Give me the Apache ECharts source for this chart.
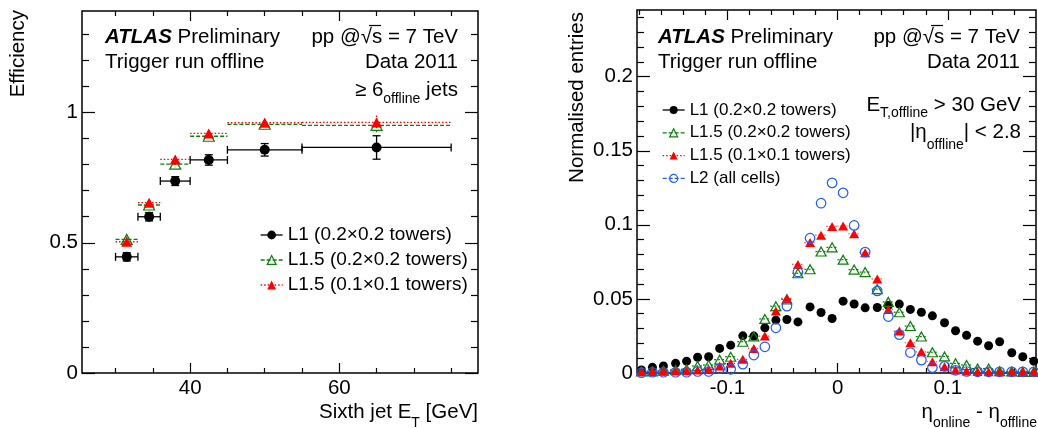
<!DOCTYPE html>
<html><head><meta charset="utf-8">
<script src="https://cdn.jsdelivr.net/npm/echarts@6/dist/echarts.min.js"></script>
<style>html,body{margin:0;padding:0;background:#fff}#c{width:1038px;height:428px}</style>
</head><body><div id="c"></div>
<script>
// ---------------- Left panel: efficiency vs sixth jet ET ----------------
const effBinLow    = [30, 33, 36, 40, 45, 55];
const effBinHigh   = [33, 36, 40, 45, 55, 75];
const effBinCenter = [31.5, 34.5, 38, 42.5, 50, 65];
const effL1        = [0.446, 0.600, 0.737, 0.818, 0.857, 0.866];
const effL1Err     = [0.016, 0.016, 0.017, 0.020, 0.024, 0.045];
const effL15Coarse    = [0.513, 0.645, 0.802, 0.909, 0.955, 0.951];
const effL15CoarseErr = [0.010, 0.010, 0.012, 0.010, 0.008, 0.027];
const effL15Fine      = [0.504, 0.654, 0.820, 0.920, 0.961, 0.962];
const effL15FineErr   = [0.010, 0.010, 0.012, 0.010, 0.008, 0.027];
const effXTicksMajor = [40, 60];
const effXTicksMinor = [30, 35, 45, 50, 55, 65, 70, 75];
const effYTicksMajor = [0, 0.5, 1];
const effYTicksMinor = [0.1, 0.2, 0.3, 0.4, 0.6, 0.7, 0.8, 0.9, 1.1, 1.2, 1.3];

// ---------------- Right panel: eta resolution ----------------
const etaCenter = [-0.178, -0.168, -0.158, -0.147, -0.137, -0.127, -0.117, -0.107, -0.097, -0.086,
  -0.076, -0.066, -0.056, -0.046, -0.036, -0.025, -0.015, -0.005, 0.005, 0.015, 0.025, 0.036,
  0.046, 0.056, 0.066, 0.076, 0.086, 0.097, 0.107, 0.117, 0.127, 0.137, 0.147, 0.158, 0.168, 0.178];
const etaBinHalf = 0.0051;
const resL1 = [0.002, 0.0038, 0.0047, 0.0065, 0.008, 0.0106, 0.011, 0.0166, 0.0188, 0.0251, 0.0249,
  0.0305, 0.0357, 0.0361, 0.0345, 0.0446, 0.0408, 0.0368, 0.0485, 0.0466, 0.044, 0.0442, 0.0455,
  0.0465, 0.0429, 0.041, 0.0386, 0.0339, 0.0285, 0.0254, 0.0215, 0.0184, 0.0211, 0.0137, 0.011, 0.008];
const resL15Coarse = [0.001, 0.001, 0.0015, 0.002, 0.0025, 0.0047, 0.0054, 0.009, 0.011, 0.0211, 0.0247,
  0.0365, 0.0451, 0.0497, 0.0673, 0.07, 0.082, 0.0848, 0.0765, 0.0698, 0.0681, 0.0566, 0.048, 0.041,
  0.0317, 0.0246, 0.014, 0.0112, 0.0065, 0.0054, 0.003, 0.003, 0.0012, 0.001, 0.0008, 0.0008];
const resL15Fine = [0.001, 0.001, 0.0013, 0.0014, 0.0016, 0.002, 0.0025, 0.0047, 0.0065, 0.0092, 0.0166,
  0.0249, 0.0419, 0.0503, 0.0733, 0.088, 0.093, 0.0989, 0.0992, 0.094, 0.0812, 0.0635, 0.0429, 0.0283,
  0.0204, 0.0143, 0.0076, 0.0042, 0.002, 0.0013, 0.001, 0.0008, 0.0008, 0.0008, 0.0008, 0.0008];
const resL2 = [0.0002, 0.0005, 0.0005, 0.0005, 0.0005, 0.001, 0.001, 0.003, 0.0025, 0.006, 0.0121,
  0.0177, 0.0305, 0.0451, 0.0682, 0.091, 0.1146, 0.1283, 0.1216, 0.0996, 0.0816, 0.0554, 0.0381,
  0.0259, 0.0138, 0.0087, 0.0036, 0.0045, 0.0018, 0.001, 0.0008, 0.0008, 0.0008, 0.0008, 0.0008, 0.0008];
const resXTicksMajor = [-0.1, 0, 0.1];
const resXTicksMinor = [-0.18, -0.16, -0.14, -0.12, -0.08, -0.06, -0.04, -0.02, 0.02, 0.04, 0.06, 0.08, 0.12, 0.14, 0.16];
const resYTicksMajor = [0, 0.05, 0.1, 0.15, 0.2];
const resYTicksMinor = [0.01, 0.02, 0.03, 0.04, 0.06, 0.07, 0.08, 0.09, 0.11, 0.12, 0.13, 0.14,
  0.16, 0.17, 0.18, 0.19, 0.21, 0.22, 0.23, 0.24];

const seriesNames = ['L1 (0.2×0.2 towers)', 'L1.5 (0.2×0.2 towers)', 'L1.5 (0.1×0.1 towers)', 'L2 (all cells)'];

// ---------------- styling ----------------
const FONT = "'Liberation Sans', Arial, Helvetica, sans-serif";
const BLACK = '#000000', GREEN = '#0b7f0b', RED = '#ff0000', BLUE = '#1f5cff';
const DASH = [4, 2], DOT = [1.5, 2];

function axes(kind, grid, min, max, major, minor, majLen, minLen, labelMargin) {
  const pos = kind === 'x' ? ['bottom', 'top'] : ['left', 'right'];
  const mk = (p, vals, len, labels) => ({
    type: 'value', gridIndex: grid, min: min, max: max, position: p,
    axisLine: { show: false, onZero: false }, splitLine: { show: false },
    axisTick: { show: true, inside: true, length: len, customValues: vals, lineStyle: { color: '#000', width: 1.2 } },
    axisLabel: labels ? { show: true, customValues: major, margin: labelMargin, fontSize: 20.5, color: '#000', fontFamily: FONT }
                      : { show: false },
    axisPointer: { show: false }
  });
  return [mk(pos[0], major, majLen, true), mk(pos[0], minor, minLen, false),
          mk(pos[1], major, majLen, false), mk(pos[1], minor, minLen, false)];
}

const xAxes = [].concat(
  axes('x', 0, 25.5, 78.6, effXTicksMajor, effXTicksMinor, 10, 5, 5),
  axes('x', 1, -0.182, 0.18, resXTicksMajor, resXTicksMinor, 10, 5, 5));
const yAxes = [].concat(
  axes('y', 0, 0, 1.39, effYTicksMajor, effYTicksMinor, 13, 7, 4),
  axes('y', 1, 0, 0.245, resYTicksMajor, resYTicksMinor, 13, 7, 4));

function errRender(style, cap) {
  return function (params, api) {
    const x = api.value(0), y = api.value(1), lo = api.value(2), hi = api.value(3), e = api.value(4);
    const a = api.coord([lo, y]), b = api.coord([hi, y]);
    const t = api.coord([x, y + e]), d = api.coord([x, y - e]);
    const segs = [[a, b], [t, d]];
    if (cap) {
      segs.push([[a[0], a[1] - cap], [a[0], a[1] + cap]], [[b[0], b[1] - cap], [b[0], b[1] + cap]],
                [[t[0] - cap, t[1]], [t[0] + cap, t[1]]], [[d[0] - cap, d[1]], [d[0] + cap, d[1]]]);
    }
    return { type: 'group', children: segs.map(s => ({
      type: 'line', shape: { x1: s[0][0], y1: s[0][1], x2: s[1][0], y2: s[1][1] }, style: style })) };
  };
}
function hbarRender(style) {
  return function (params, api) {
    const x = api.value(0), y = api.value(1), h = api.value(2);
    const a = api.coord([x - h, y]), b = api.coord([x + h, y]);
    return { type: 'line', shape: { x1: a[0], y1: a[1], x2: b[0], y2: b[1] }, style: style };
  };
}
const effErrData = (vals, errs) => effBinCenter.map((x, i) => [x, vals[i], effBinLow[i], effBinHigh[i], errs[i]]);
const effPts = vals => effBinCenter.map((x, i) => [x, vals[i]]);
const resPts = vals => etaCenter.map((x, i) => [x, vals[i]]);
const resBar = vals => etaCenter.map((x, i) => [x, vals[i], etaBinHalf]);

function markers(name, xi, vals, symbol, size, itemStyle, z) {
  return { type: 'line', name: name, xAxisIndex: xi, yAxisIndex: xi, data: vals, symbol: symbol,
    symbolSize: size, showAllSymbol: true, lineStyle: { width: 0, opacity: 0 }, itemStyle: itemStyle,
    z: z, clip: true, emphasis: { disabled: true } };
}
const SOLID_BLACK = { color: BLACK, borderWidth: 0 };
const OPEN_GREEN = { color: 'rgba(0,0,0,0)', borderColor: GREEN, borderWidth: 1.2 };
const FILL_RED = { color: RED, borderWidth: 0 };
const OPEN_BLUE = { color: 'rgba(0,0,0,0)', borderColor: BLUE, borderWidth: 1.2 };

const series = [
  { type: 'custom', xAxisIndex: 0, yAxisIndex: 0, data: effErrData(effL1, effL1Err), renderItem: errRender({ stroke: BLACK, lineWidth: 1.3 }, 4), z: 2, silent: true },
  { type: 'custom', xAxisIndex: 0, yAxisIndex: 0, data: effErrData(effL15Coarse, effL15CoarseErr), renderItem: errRender({ stroke: GREEN, lineWidth: 1.3, lineDash: DASH }, 0), z: 2, silent: true },
  { type: 'custom', xAxisIndex: 0, yAxisIndex: 0, data: effErrData(effL15Fine, effL15FineErr), renderItem: errRender({ stroke: RED, lineWidth: 1.3, lineDash: DOT }, 0), z: 2, silent: true },
  markers(seriesNames[0], 0, effPts(effL1), 'circle', 10, SOLID_BLACK, 3),
  markers(seriesNames[1], 0, effPts(effL15Coarse), 'triangle', [11, 10], OPEN_GREEN, 4),
  markers(seriesNames[2], 0, effPts(effL15Fine), 'triangle', [11, 10], FILL_RED, 5),

  { type: 'custom', xAxisIndex: 4, yAxisIndex: 4, data: resBar(resL15Coarse), renderItem: hbarRender({ stroke: GREEN, lineWidth: 1.2, lineDash: [2, 2] }), z: 2, silent: true, clip: true },
  { type: 'custom', xAxisIndex: 4, yAxisIndex: 4, data: resBar(resL15Fine), renderItem: hbarRender({ stroke: RED, lineWidth: 1.2, lineDash: [1, 2] }), z: 2, silent: true, clip: true },
  markers(seriesNames[0], 4, resPts(resL1), 'circle', 9, SOLID_BLACK, 3),
  markers(seriesNames[1], 4, resPts(resL15Coarse), 'triangle', [10, 9], OPEN_GREEN, 4),
  markers(seriesNames[2], 4, resPts(resL15Fine), 'triangle', [10, 9], FILL_RED, 5),
  markers(seriesNames[3], 4, resPts(resL2), 'circle', 9.5, OPEN_BLUE, 6)
];

const legendItems = [
  { name: seriesNames[0], lineStyle: { color: BLACK, width: 1.3, type: 'solid', opacity: 1 }, itemStyle: SOLID_BLACK },
  { name: seriesNames[1], lineStyle: { color: GREEN, width: 1.3, type: DASH, opacity: 1 }, itemStyle: OPEN_GREEN },
  { name: seriesNames[2], lineStyle: { color: RED, width: 1.3, type: DOT, opacity: 1 }, itemStyle: FILL_RED },
  { name: seriesNames[3], lineStyle: { color: BLUE, width: 1.3, type: DASH, opacity: 1 }, itemStyle: OPEN_BLUE }
];

// ---------------- text (labels, titles) ----------------
const TXT = { fill: '#000', fontFamily: FONT, fontSize: 20.5 };
function label(x, y, text, align, extra) {
  return { type: 'text', x: x, y: y, silent: true, z: 10,
    style: Object.assign({ text: text, align: align, verticalAlign: 'middle' }, TXT, extra || {}) };
}
function atlas(x, y) {
  return { type: 'text', x: x, y: y, silent: true, z: 10,
    style: Object.assign({}, TXT, { text: '{b|ATLAS}{n| Preliminary}', align: 'left', verticalAlign: 'middle',
      rich: { b: { fontFamily: FONT, fontSize: 20.5, fontWeight: 'bold', fontStyle: 'italic', fill: '#000' },
              n: { fontFamily: FONT, fontSize: 20.5, fill: '#000' } } }) };
}
function subText(x, centerY, text, align, P) {
  return { type: 'text', x: x, y: centerY - 10.5, silent: true, z: 10,
    style: Object.assign({}, TXT, { text: text, align: align, verticalAlign: 'top',
      rich: { a: { fontFamily: FONT, fontSize: 20.5, lineHeight: 21, verticalAlign: 'top', fill: '#000' },
              s: { fontFamily: FONT, fontSize: 14, lineHeight: 14, verticalAlign: 'top', padding: [P, 0, 0, 0], fill: '#000' } } }) };
}
function vtitle(x, y, text) {
  return { type: 'text', x: x, y: y, rotation: Math.PI / 2, silent: true, z: 10,
    style: Object.assign({ text: text, align: 'right', verticalAlign: 'middle' }, TXT) };
}
function overbar(x1, x2, y) {
  return { type: 'line', silent: true, z: 10, shape: { x1: x1, y1: y, x2: x2, y2: y }, style: { stroke: '#000', lineWidth: 1.2 } };
}

const graphic = [
  atlas(105, 37), label(458, 37, 'pp @√s = 7 TeV', 'right'), overbar(369, 381, 25.5),
  label(105, 62.5, 'Trigger run offline', 'left'), label(458, 62.5, 'Data 2011', 'right'),
  subText(458, 90, '{a|≥ 6}{s|offline}{a| jets}', 'right', 12.5),
  vtitle(18, 10, 'Efficiency'),
  subText(478, 412, '{a|Sixth jet E}{s|T}{a| [GeV]}', 'right', 14.5),

  atlas(658, 37), label(1020, 37, 'pp @√s = 7 TeV', 'right'), overbar(931, 943, 25.5),
  label(658, 62.5, 'Trigger run offline', 'left'), label(1020, 62.5, 'Data 2011', 'right'),
  subText(1021, 105, '{a|E}{s|T,offline}{a| > 30 GeV}', 'right', 11.5),
  subText(1021, 132, '{a||η}{s|offline}{a|| < 2.8}', 'right', 16.5),
  vtitle(577, 12, 'Normalised entries'),
  subText(1037, 412, '{a|η}{s|online}{a| - η}{s|offline}', 'right', 14.5)
];

const option = {
  animation: false,
  backgroundColor: '#ffffff',
  grid: [
    { left: 82, right: 560, top: 11, bottom: 55, show: true, borderColor: '#000', borderWidth: 1.5, backgroundColor: 'transparent', containLabel: false },
    { left: 637, right: 2, top: 10, bottom: 55, show: true, borderColor: '#000', borderWidth: 1.5, backgroundColor: 'transparent', containLabel: false }
  ],
  xAxis: xAxes,
  yAxis: yAxes,
  legend: [
    { left: 255, top: 220.5, orient: 'vertical', itemWidth: 22, itemHeight: 11, itemGap: 6, selectedMode: false,
      textStyle: { fontSize: 19, lineHeight: 19, fontFamily: FONT, color: '#000' }, data: legendItems.slice(0, 3) },
    { left: 657, top: 96.5, orient: 'vertical', itemWidth: 22, itemHeight: 10, itemGap: 5.8, selectedMode: false,
      textStyle: { fontSize: 17, lineHeight: 17, fontFamily: FONT, color: '#000' }, data: legendItems }
  ],
  graphic: graphic,
  series: series
};

const chart = echarts.init(document.getElementById('c'), null, { renderer: 'canvas' });
chart.setOption(option);
</script>
</body></html>
